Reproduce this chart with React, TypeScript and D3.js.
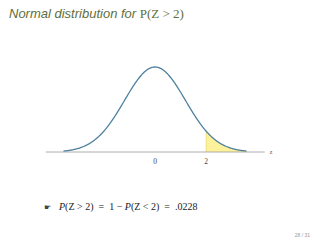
import React from "react";
import * as d3 from "d3";

// curve drawn in standard-deviation units
const domainZ = [-3, 3];
const axisZ = [-3.58, 3.6];
// tick positions and their printed labels
const tickValues = [0, 1.68];
const tickLabels = ["0", "2"];
const threshold = 1.68;
const mu = 0;
const sigma = 1;
const probability = ".0228";

const W = 320;
const H = 240;

const pdf = (z: number) =>
  Math.exp(-0.5 * ((z - mu) / sigma) ** 2) / (sigma * Math.sqrt(2 * Math.PI));

export default function App() {
  const x = d3.scaleLinear().domain([-1, 1]).range([155 - 30.5, 155 + 30.5]);
  const y = d3.scaleLinear().domain([0, pdf(0)]).range([152, 67]);
  const pts = d3.range(domainZ[0], domainZ[1] + 1e-9, 0.02).map((z) => [z, pdf(z)] as [number, number]);
  const line = d3.line<[number, number]>().x((d) => x(d[0])).y((d) => y(d[1]));
  const shadePts = pts.filter((d) => d[0] >= threshold);
  shadePts.unshift([threshold, pdf(threshold)]);
  const area = d3
    .area<[number, number]>()
    .x((d) => x(d[0]))
    .y0(y(0))
    .y1((d) => y(d[1]));
  const serif = "'Liberation Serif', 'DejaVu Serif', serif";
  const sans = "'Liberation Sans', Arial, sans-serif";
  const pre = { whiteSpace: "pre" as const };
  return (
    <svg
      width={W}
      height={H}
      style={{ position: "absolute", left: 0, top: 0, background: "#fff" }}
    >
      <text x={9} y={18} fontSize={13} fill="#5f6e3c" style={pre}>
        <tspan fontFamily={sans} fontStyle="italic">Normal distribution for </tspan>
        <tspan fontFamily={serif}>P(Z &gt; 2)</tspan>
      </text>
      <path d={area(shadePts) || ""} fill="#fdf29b" stroke="none" />
      <line x1={x(threshold)} x2={x(threshold)} y1={y(0)} y2={y(pdf(threshold))} stroke="#e9d96a" strokeWidth={0.8} />
      <line x1={x(axisZ[0])} x2={x(axisZ[1])} y1={y(0)} y2={y(0)} stroke="#9a9a9a" strokeWidth={0.8} />
      <path d={line(pts) || ""} fill="none" stroke="#4f819f" strokeWidth={1.3} />
      {tickValues.map((t, i) => (
        <text key={t} x={x(t)} y={164} fontSize={7.5} fontFamily={serif} textAnchor="middle" fill="#444">
          {tickLabels[i]}
        </text>
      ))}
      <text x={x(axisZ[1]) + 5} y={154} fontSize={6} fontFamily={serif} fill="#555">z</text>
      <text x={44} y={210} fontSize={10} fontFamily={serif} fill="#222" style={pre}>
        <tspan fontSize={8} fill="#444">☛</tspan>
        <tspan x={59} fontStyle="italic">P</tspan>
        <tspan>(Z &gt; 2)  =  1 − </tspan>
        <tspan fontStyle="italic">P</tspan>
        <tspan>(Z &lt; 2)  =  {probability}</tspan>
      </text>
      <text x={310} y={237} fontSize={5} fontFamily={sans} fill="#999" textAnchor="end">28 / 31</text>
    </svg>
  );
}
